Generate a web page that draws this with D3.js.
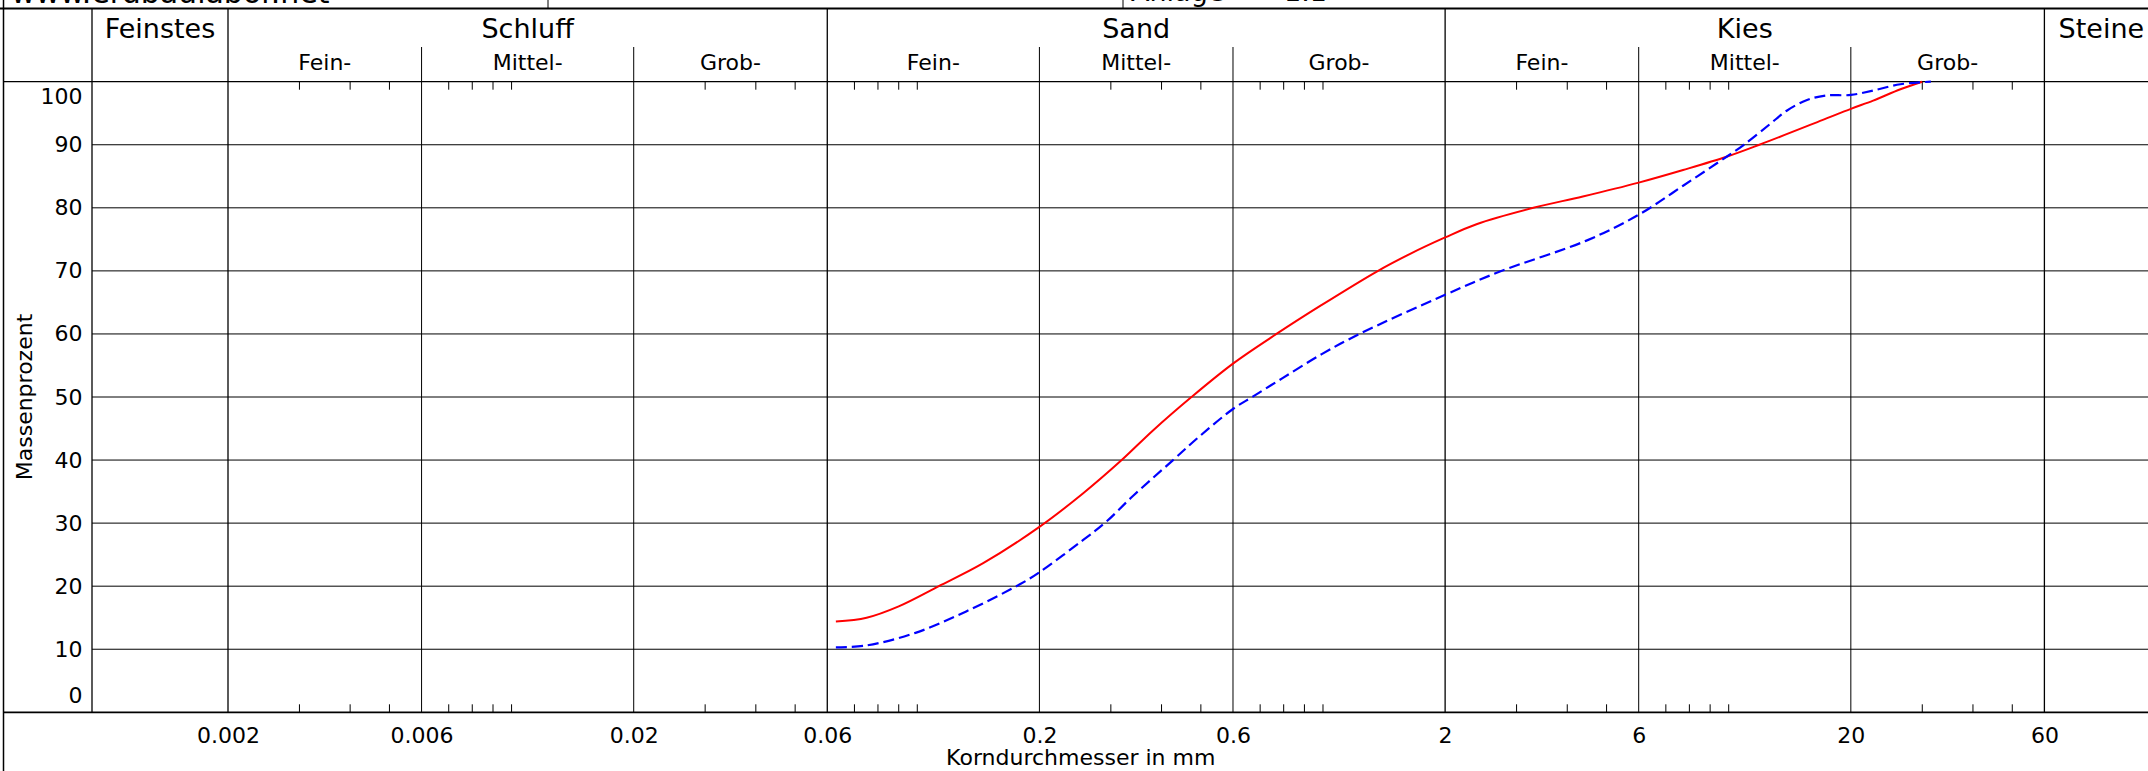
<!DOCTYPE html>
<html>
<head>
<meta charset="utf-8">
<script src="https://cdn.jsdelivr.net/npm/d3@7"></script>
<style>
  body { margin: 0; background: #fff; }
  svg { display: block; background: #fff; }
</style>
</head>
<body>
<svg></svg>
<script>
const categories = ['Feinstes', 'Schluff', 'Sand', 'Kies', 'Steine']
const categoryBounds = [0.002, 0.06, 2, 60]
const subLabels = ['Fein-', 'Mittel-', 'Grob-']
const subBounds = [0.002, 0.006, 0.02, 0.06, 0.2, 0.6, 2, 6, 20, 60]
const xTickValues = [0.002, 0.006, 0.02, 0.06, 0.2, 0.6, 2, 6, 20, 60]
const xTickLabels = ['0.002', '0.006', '0.02', '0.06', '0.2', '0.6', '2', '6', '20', '60']
const yTickValues = [0, 10, 20, 30, 40, 50, 60, 70, 80, 90, 100]
const minorSteps = [3, 4, 5, 7, 8, 9, 10]
const decades = [0.001, 0.01, 0.1, 1, 10]

// Probe 1 (rot, durchgezogen)
const sizesRed = [0.063, 0.075, 0.09, 0.113, 0.145, 0.2, 0.256, 0.319, 0.381, 0.474, 0.6, 0.768, 0.993, 1.357, 1.64, 2, 2.39, 3.3, 4.37, 6, 7.72, 9.88, 11.9, 17, 20, 22.7, 26.5, 30]
const passRed = [14.4, 15.0, 16.8, 20.0, 23.6, 29.4, 34.7, 40.0, 44.7, 50.0, 55.3, 60.0, 64.6, 69.9, 72.7, 75.3, 77.4, 80.0, 81.8, 84.0, 86.0, 88.1, 90.0, 93.9, 95.7, 97.0, 98.8, 100]

// Probe 2 (blau, gestrichelt)
const sizesBlue = [0.063, 0.075, 0.099, 0.132, 0.179, 0.2, 0.256, 0.292, 0.34, 0.427, 0.497, 0.6, 0.673, 0.795, 0.993, 1.23, 2, 2.73, 4.46, 6, 7.72, 9.88, 10.9, 12.65, 13.9, 15.6, 17.3, 20, 22.7, 26.5, 31.5]
const passBlue = [10.3, 10.6, 12.6, 16.0, 20.3, 22.2, 27.3, 30.2, 34.3, 40.0, 43.8, 48.1, 50.1, 53.0, 56.8, 60.0, 66.2, 69.9, 74.8, 78.9, 83.5, 88.1, 90.0, 93.3, 95.4, 97.1, 97.8, 97.9, 98.6, 99.6, 100]

const drawSieveChart = () => {
  const width = 2148
  const height = 771
  const frameLeft = 3.5
  const frameRight = 2158
  const fineWidth = 136
  const stoneWidth = 114
  const headTop = 8.5
  const subTop = 47
  const font = "'DejaVu Sans', Verdana, sans-serif"

  const svg = d3.select('svg')
                .attr('width', width)
                .attr('height', height)
                .style('font-family', font)

  const xScale = d3.scaleLog()
                   .domain([0.002, 60])
                   .range([228, 2044.4])
  const yScale = d3.scaleLinear()
                   .domain([0, 100])
                   .range([712.3, 81.7])

  const plotLeft = xScale(0.002) - fineWidth
  const plotRight = xScale(60) + stoneWidth
  const yBottom = yScale(0)
  const yTop = yScale(100)

  // top strip (cut off in the picture)
  svg.append('text').text('www.erdbaulabor.net')
     .attr('x', 11).attr('y', 3).style('font-size', '30px')
  svg.append('text').text('Anlage')
     .attr('x', 1131).attr('y', 1).style('font-size', '27px')
  svg.append('text').text('1.1')
     .attr('x', 1284).attr('y', 1).style('font-size', '27px')
  svg.selectAll('.strip')
     .data([548, 1123])
     .join('line')
     .attr('x1', d => d).attr('x2', d => d)
     .attr('y1', 0).attr('y2', headTop)
     .attr('stroke', '#000')

  // frame
  svg.append('line')
     .attr('x1', 0).attr('x2', width)
     .attr('y1', headTop).attr('y2', headTop)
     .attr('stroke', '#000').attr('stroke-width', 2)
  svg.append('line')
     .attr('x1', frameLeft).attr('x2', frameLeft)
     .attr('y1', 0).attr('y2', height)
     .attr('stroke', '#000').attr('stroke-width', 1.5)
  svg.append('line')
     .attr('x1', plotRight).attr('x2', plotRight)
     .attr('y1', 0).attr('y2', height)
     .attr('stroke', '#000').attr('stroke-width', 1.5)

  // horizontal grid
  svg.append('g')
     .selectAll('line')
     .data(yTickValues.filter(v => v > 0 && v < 100))
     .join('line')
     .attr('x1', plotLeft).attr('x2', frameRight)
     .attr('y1', d => yScale(d)).attr('y2', d => yScale(d))
     .attr('stroke', '#000').attr('stroke-width', 1)
  svg.append('line')
     .attr('x1', frameLeft).attr('x2', frameRight)
     .attr('y1', yTop).attr('y2', yTop)
     .attr('stroke', '#000').attr('stroke-width', 1.3)
  svg.append('line')
     .attr('x1', frameLeft).attr('x2', frameRight)
     .attr('y1', yBottom).attr('y2', yBottom)
     .attr('stroke', '#000').attr('stroke-width', 1.8)

  // vertical lines: categories from the header top, sub classes from the sub row
  svg.append('line')
     .attr('x1', plotLeft).attr('x2', plotLeft)
     .attr('y1', headTop).attr('y2', yBottom)
     .attr('stroke', '#000').attr('stroke-width', 1.3)
  svg.append('g')
     .selectAll('line')
     .data(subBounds)
     .join('line')
     .attr('x1', d => xScale(d)).attr('x2', d => xScale(d))
     .attr('y1', d => categoryBounds.includes(d) ? headTop : subTop)
     .attr('y2', yBottom)
     .attr('stroke', '#000')
     .attr('stroke-width', d => categoryBounds.includes(d) ? 1.3 : 1)

  // minor ticks at top and bottom
  const minorTicks = decades.flatMap(k => minorSteps.map(m => +(k * m).toPrecision(3)))
                            .filter(v => v > 0.002 && v < 60 && !subBounds.includes(v))
  const ticks = svg.append('g')
  ticks.selectAll('.top')
       .data(minorTicks)
       .join('line')
       .attr('x1', d => xScale(d)).attr('x2', d => xScale(d))
       .attr('y1', yTop).attr('y2', yTop + 8)
       .attr('stroke', '#000')
  ticks.selectAll('.bottom')
       .data(minorTicks)
       .join('line')
       .attr('x1', d => xScale(d)).attr('x2', d => xScale(d))
       .attr('y1', yBottom - 8).attr('y2', yBottom)
       .attr('stroke', '#000')

  // header labels
  const categoryEdges = [plotLeft, ...categoryBounds.map(d => xScale(d)), plotRight]
  svg.append('g')
     .selectAll('text')
     .data(categories)
     .join('text')
     .text(d => d)
     .attr('x', (d, i) => (categoryEdges[i] + categoryEdges[i + 1]) / 2)
     .attr('y', 38)
     .attr('text-anchor', 'middle')
     .style('font-size', '27px')

  svg.append('g')
     .selectAll('text')
     .data(subBounds.slice(0, -1))
     .join('text')
     .text((d, i) => subLabels[i % 3])
     .attr('x', (d, i) => (xScale(d) + xScale(subBounds[i + 1])) / 2)
     .attr('y', 70)
     .attr('text-anchor', 'middle')
     .style('font-size', '22px')

  // axes (labels only)
  const xAxis = d3.axisBottom()
                  .scale(xScale)
                  .tickValues(xTickValues)
                  .tickFormat((d, i) => xTickLabels[i])
                  .tickSize(0)
                  .tickPadding(15.4)
  const xg = svg.append('g')
                .attr('transform', `translate(0, ${yBottom})`)
                .call(xAxis)
  xg.select('.domain').remove()
  xg.selectAll('text')
    .attr('fill', '#000')
    .style('font-size', '22px')
    .style('font-family', font)

  const yAxis = d3.axisLeft()
                  .scale(yScale)
                  .tickValues(yTickValues)
                  .tickSize(0)
                  .tickPadding(9.5)
  const yg = svg.append('g')
                .attr('transform', `translate(${plotLeft}, 0)`)
                .call(yAxis)
  yg.select('.domain').remove()
  yg.selectAll('text')
    .attr('fill', '#000')
    .attr('y', d => d === 100 ? 14.6 : d === 0 ? -16.5 : 0)
    .style('font-size', '22px')
    .style('font-family', font)

  svg.append('text')
     .text('Korndurchmesser in mm')
     .attr('x', (frameLeft + frameRight) / 2)
     .attr('y', 765)
     .attr('text-anchor', 'middle')
     .style('font-size', '22px')

  svg.append('text')
     .text('Massenprozent')
     .attr('transform', `translate(32, ${(yTop + yBottom) / 2})rotate(-90)`)
     .attr('text-anchor', 'middle')
     .style('font-size', '22px')

  // curves
  const line = d3.line()
                 .x(d => xScale(d[0]))
                 .y(d => yScale(d[1]))
                 .curve(d3.curveCatmullRom.alpha(0.5))

  svg.append('path')
     .datum(d3.zip(sizesRed, passRed))
     .attr('d', line)
     .attr('fill', 'none')
     .attr('stroke', '#ff0000')
     .attr('stroke-width', 2)

  svg.append('path')
     .datum(d3.zip(sizesBlue, passBlue))
     .attr('d', line)
     .attr('fill', 'none')
     .attr('stroke', '#0000ff')
     .attr('stroke-width', 2.2)
     .attr('stroke-dasharray', '11,5')
}

drawSieveChart()
</script>
</body>
</html>
